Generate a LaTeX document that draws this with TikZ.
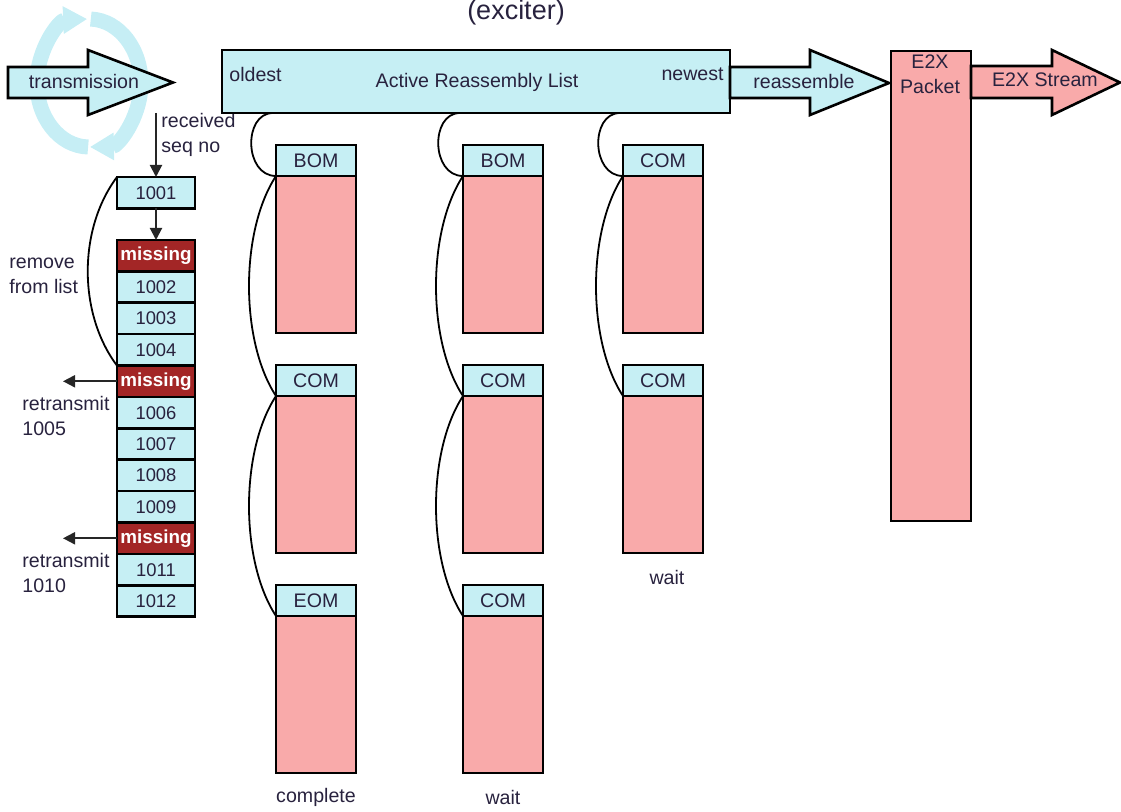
\documentclass[tikz,border=0pt]{standalone}
\usepackage{fontspec}
\setmainfont{Liberation Sans}
\usetikzlibrary{arrows.meta,calc}
\definecolor{cyanfill}{RGB}{198,239,244}
\definecolor{pinkfill}{RGB}{249,170,170}
\definecolor{missred}{RGB}{163,38,38}
\definecolor{ringcyan}{RGB}{198,238,245}
\definecolor{txt}{RGB}{40,34,62}
\tikzset{
  base/.style={font=\fontsize{9.8}{12.5}\selectfont, text=txt},
  box/.style={base, draw=black, line width=1.3pt, inner sep=0pt, outer sep=0pt},
  cell/.style={box, fill=cyanfill, minimum width=39pt, minimum height=15.7pt,
               font=\fontsize{9.2}{10}\selectfont},
  miss/.style={cell, fill=missred, text=white, font=\fontsize{9.4}{10}\selectfont\bfseries},
  hdr/.style={box, fill=cyanfill, minimum width=40pt, minimum height=15.5pt},
  body/.style={box, fill=pinkfill, minimum width=40pt, minimum height=78.5pt},
  blockarrow/.style={draw=black, line width=1.3pt, line join=miter},
  lbl/.style={base, inner sep=0pt},
  link/.style={draw=black, line width=0.9pt},
  arr/.style={draw=black!85, line width=1pt, -{Triangle[length=6pt,width=6pt]}},
  ring/.style={draw=ringcyan, line width=7.5pt, -{Triangle[length=12pt,width=13pt]}}
}
\begin{document}
\begin{tikzpicture}[x=0.5pt,y=-0.5pt]
\useasboundingbox (0,0) rectangle (1121,812);

% heading
\node[lbl, font=\fontsize{13.5}{16}\selectfont] (title) at (516,13) {(exciter)};

% rotating arrows around the sender
\draw[ring] (89,83) ++(91:52 and 64) arc[start angle=91, end angle=268, x radius=52, y radius=64];
\draw[ring] (89,83) ++(-88:52 and 64) arc[start angle=-88, end angle=89, x radius=52, y radius=64];

% transmission arrow
\draw[blockarrow, fill=cyanfill] (8,67) -- (88,67) -- (88,50) -- (173,82.5) -- (88,115) -- (88,98) -- (8,98) -- cycle;
\node[lbl] (tx) at (84,81) {transmission};

% received sequence numbers
\coordinate (rxtop) at (156,113);
\node[lbl, align=left, anchor=west] (rxlbl) at (161,135) {received\\seq no};
\node[cell, anchor=north west] (n1001) at (117,177) {1001};
\draw[arr] (rxtop) -- (n1001.north);

\node[miss, anchor=north west] (m1) at (117,240) {missing};
\node[cell, anchor=north] (r1002) at (m1.south) {1002};
\node[cell, anchor=north] (r1003) at (r1002.south) {1003};
\node[cell, anchor=north] (r1004) at (r1003.south) {1004};
\node[miss, anchor=north] (m2) at (r1004.south) {missing};
\node[cell, anchor=north] (r1006) at (m2.south) {1006};
\node[cell, anchor=north] (r1007) at (r1006.south) {1007};
\node[cell, anchor=north] (r1008) at (r1007.south) {1008};
\node[cell, anchor=north] (r1009) at (r1008.south) {1009};
\node[miss, anchor=north] (m3) at (r1009.south) {missing};
\node[cell, anchor=north] (r1011) at (m3.south) {1011};
\node[cell, anchor=north] (r1012) at (r1011.south) {1012};

\draw[arr] (n1001.south) -- (m1.north);

% removal of delivered entries
\draw[link] (n1001.north west) .. controls +(-39,52) and +(-39,-52) .. (r1004.south west);
\node[lbl, align=left, anchor=west] (rmlbl) at (9,276) {remove\\from list};

% retransmission requests
\coordinate (rt1) at (63,380);
\coordinate (rt2) at (63,537);
\draw[arr] (m2.west) -- (rt1 |- m2.west);
\draw[arr] (m3.west) -- (rt2 |- m3.west);
\node[lbl, align=left, anchor=west] (rt1lbl) at (22,416) {retransmit\\1005};
\node[lbl, align=left, anchor=west] (rt2lbl) at (22,573) {retransmit\\1010};

% active reassembly list
\node[box, fill=cyanfill, anchor=north west, minimum width=254pt, minimum height=31.5pt] (arl) at (222,50) {};
\node[lbl] (arltext) at (477,82) {Active Reassembly List};
\node[lbl, anchor=west] (oldest) at (229,74) {oldest};
\node[lbl, anchor=east] (newest) at (724,74) {newest};

% reassemble arrow
\draw[blockarrow, fill=cyanfill] (arl.east |- 0,67) -- (810,67) -- (810,50) -- (889,83) -- (810,115) -- (810,98) -- (arl.east |- 0,98) -- cycle;
\node[lbl] (reas) at (804,82) {reassemble};

% E2X packet and stream
\node[box, fill=pinkfill, anchor=north west, minimum width=40pt, minimum height=235pt] (pkt) at (891,51) {};
\node[lbl, align=center, anchor=north] (pkttext) at (930,54) {E2X\\Packet};
\draw[blockarrow, fill=pinkfill] (pkt.east |- 0,66) -- (1052,66) -- (1052,50) -- (1120,82.5) -- (1052,115) -- (1052,98) -- (pkt.east |- 0,98) -- cycle;
\node[lbl] (stream) at (1045,80) {E2X Stream};

% fragment column 1
\node[hdr, anchor=north west] (h11) at (276,145) {BOM};
\node[body, anchor=north] (b11) at (h11.south) {};
\node[hdr, anchor=north west] (h12) at (276,365) {COM};
\node[body, anchor=north] (b12) at (h12.south) {};
\node[hdr, anchor=north west] (h13) at (276,585) {EOM};
\node[body, anchor=north] (b13) at (h13.south) {};
\node[lbl] (st1) at (316,797) {complete};

% fragment column 2
\node[hdr, anchor=north west] (h21) at (463,145) {BOM};
\node[body, anchor=north] (b21) at (h21.south) {};
\node[hdr, anchor=north west] (h22) at (463,365) {COM};
\node[body, anchor=north] (b22) at (h22.south) {};
\node[hdr, anchor=north west] (h23) at (463,585) {COM};
\node[body, anchor=north] (b23) at (h23.south) {};
\node[lbl] (st2) at (503,797) {wait};

% fragment column 3
\node[hdr, anchor=north west] (h31) at (623,145) {COM};
\node[body, anchor=north] (b31) at (h31.south) {};
\node[hdr, anchor=north west] (h32) at (623,365) {COM};
\node[body, anchor=north] (b32) at (h32.south) {};
\node[lbl] (st3) at (667,577) {wait};

% links from the list into each chain
\foreach \h in {h11,h21,h31}{
  \draw[link] ($(\h.north west |- arl.south)+(-3,0)$) .. controls +(-30,0) and +(-32,0) .. (\h.south west);
}
% links between fragments of a chain
\foreach \a/\b in {h11/h12, h12/h13, h21/h22, h22/h23, h31/h32}{
  \draw[link] (\a.south west) .. controls +(-36,55) and +(-36,-55) .. (\b.south west);
}
\end{tikzpicture}
\end{document}
